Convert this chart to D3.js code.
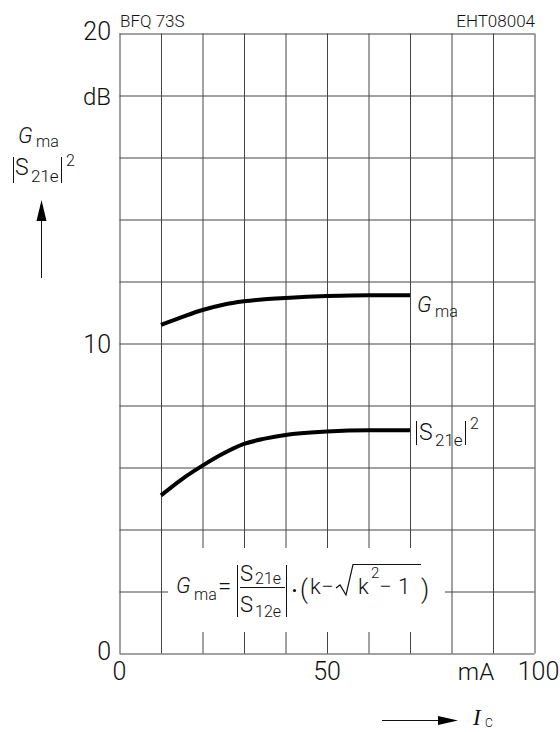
<!DOCTYPE html>
<html>
<head>
<meta charset="utf-8">
<script src="https://cdn.jsdelivr.net/npm/d3@7"></script>
<style>
  html, body { margin: 0; padding: 0; background: #fff; }
  svg text { font-family: Roboto, 'Liberation Sans', sans-serif; font-weight: 300; fill: #111; }
</style>
</head>
<body>
<div id="chart"></div>
<script>
const width = 560;
const height = 732;

// collector current, mA
const currentMA = [10, 15, 20, 25, 30, 35, 40, 50, 60, 70];
// maximum available gain, dB
const gmaDB = [10.6, 10.85, 11.08, 11.25, 11.36, 11.43, 11.47, 11.53, 11.56, 11.56];
// |S21e|^2, dB
const s21DB = [5.1, 5.62, 6.06, 6.45, 6.76, 6.93, 7.05, 7.16, 7.2, 7.2];

const xGridValues = [0, 10, 20, 30, 40, 50, 60, 70, 80, 90, 100];
const yGridValues = [0, 2, 4, 6, 8, 10, 12, 14, 16, 18, 20];
const xTickLabels = [0, 50, 100];
const yTickLabels = [0, 10, 20];

const svg = d3.select('#chart')
  .append('svg')
  .attr('width', width)
  .attr('height', height)
  .attr('viewBox', `0 0 ${width} ${height}`);

const x = d3.scaleLinear().domain([0, 100]).range([119.5, 534.5]);
const y = d3.scaleLinear().domain([0, 20]).range([653.5, 33.5]);

// grid via axes
const gridX = svg.append('g')
  .attr('transform', `translate(0,${y(0)})`)
  .call(d3.axisBottom(x).tickValues(xGridValues).tickSize(-(y(0) - y(20))).tickFormat(''));
const gridY = svg.append('g')
  .attr('transform', `translate(${x(0)},0)`)
  .call(d3.axisLeft(y).tickValues(yGridValues).tickSize(-(x(100) - x(0))).tickFormat(''));
[gridX, gridY].forEach(g => {
  g.select('.domain').remove();
  g.selectAll('line').attr('stroke', '#444').attr('stroke-width', 1);
});

// white panel behind the formula
svg.append('rect')
  .attr('x', 168).attr('y', 548)
  .attr('width', 277).attr('height', 84)
  .attr('fill', '#fff');

// curves
const line = d3.line()
  .x((d, i) => x(currentMA[i]))
  .y(d => y(d))
  .curve(d3.curveMonotoneX);

[gmaDB, s21DB].forEach(series => {
  svg.append('path')
    .datum(series)
    .attr('d', line)
    .attr('fill', 'none')
    .attr('stroke', '#000')
    .attr('stroke-width', 4);
});

function txt(s, px, py, size, anchor, opts) {
  const t = svg.append('text')
    .attr('x', px).attr('y', py)
    .attr('font-size', size)
    .attr('text-anchor', anchor || 'start')
    .text(s);
  if (opts && opts.italic) t.attr('font-style', 'italic');
  if (opts && opts.family) t.style('font-family', opts.family);
  return t;
}

function bar(x1, y1, y2) {
  svg.append('line')
    .attr('x1', x1).attr('x2', x1).attr('y1', y1).attr('y2', y2)
    .attr('stroke', '#111').attr('stroke-width', 1);
}

// tick labels
yTickLabels.forEach(v => {
  txt(String(v), 111, y(v) + (v === 10 ? 9 : 6), 25, 'end');
});
txt('dB', 111, 105, 24, 'end');

xTickLabels.forEach(v => {
  txt(String(v), x(v) + (v === 100 ? 4 : 0), 680, 25, 'middle');
});
txt('mA', 476, 680, 24, 'middle');

txt('BFQ 73S', 120, 27, 17, 'start');
txt('EHT08004', 535, 27, 17, 'end');

// y axis title
txt('G', 18, 143, 22, 'start', { italic: true });
txt('ma', 36, 147, 16);
bar(13.5, 157, 183);
txt('S', 15, 175, 23);
txt('21e', 31, 182, 17);
bar(61.5, 157, 183);
txt('2', 66, 166, 16);

svg.append('line')
  .attr('x1', 41.5).attr('x2', 41.5).attr('y1', 278).attr('y2', 215)
  .attr('stroke', '#111').attr('stroke-width', 1);
svg.append('path')
  .attr('d', 'M36.5,221 L46.5,221 L41.5,200 Z')
  .attr('fill', '#000');

// x axis title
svg.append('line')
  .attr('x1', 382).attr('x2', 442).attr('y1', 720.5).attr('y2', 720.5)
  .attr('stroke', '#111').attr('stroke-width', 1);
svg.append('path')
  .attr('d', 'M438,716 L438,725 L458,720.5 Z')
  .attr('fill', '#000');
txt('I', 473, 725, 23, 'start', { italic: true, family: "'Liberation Serif', serif" });
txt('C', 485, 727, 12);

// curve labels
txt('G', 417, 312, 22, 'start', { italic: true });
txt('ma', 435, 317, 16);
bar(416.5, 421, 445);
txt('S', 419, 440, 23);
txt('21e', 435, 446, 17);
bar(465.5, 421, 445);
txt('2', 470, 429, 16);

// formula
txt('G', 176, 593, 22, 'start', { italic: true });
txt('ma', 194, 600, 16);
txt('=', 218, 594, 24);
bar(237.5, 565, 617);
txt('S', 240, 581, 22);
txt('21e', 255, 584, 16);
svg.append('line')
  .attr('x1', 240).attr('x2', 285).attr('y1', 587.5).attr('y2', 587.5)
  .attr('stroke', '#111').attr('stroke-width', 1);
txt('S', 240, 612, 22);
txt('12e', 255, 617, 16);
bar(286.5, 565, 617);
svg.append('circle').attr('cx', 294.5).attr('cy', 590.5).attr('r', 1.6).attr('fill', '#111');
txt('(', 300, 598, 25);
txt('k', 310, 594, 22);
txt('\u2212', 321, 594, 22);
svg.append('path')
  .attr('d', 'M336,588 L340,585 L346,595 L353,564.5 L421,564.5')
  .attr('fill', 'none').attr('stroke', '#111').attr('stroke-width', 1.2);
txt('k', 358, 594, 22);
txt('2', 371, 578, 15);
txt('\u2212', 379, 594, 22);
txt('1', 398, 594, 22);
txt(')', 421, 598, 25);
</script>
</body>
</html>
